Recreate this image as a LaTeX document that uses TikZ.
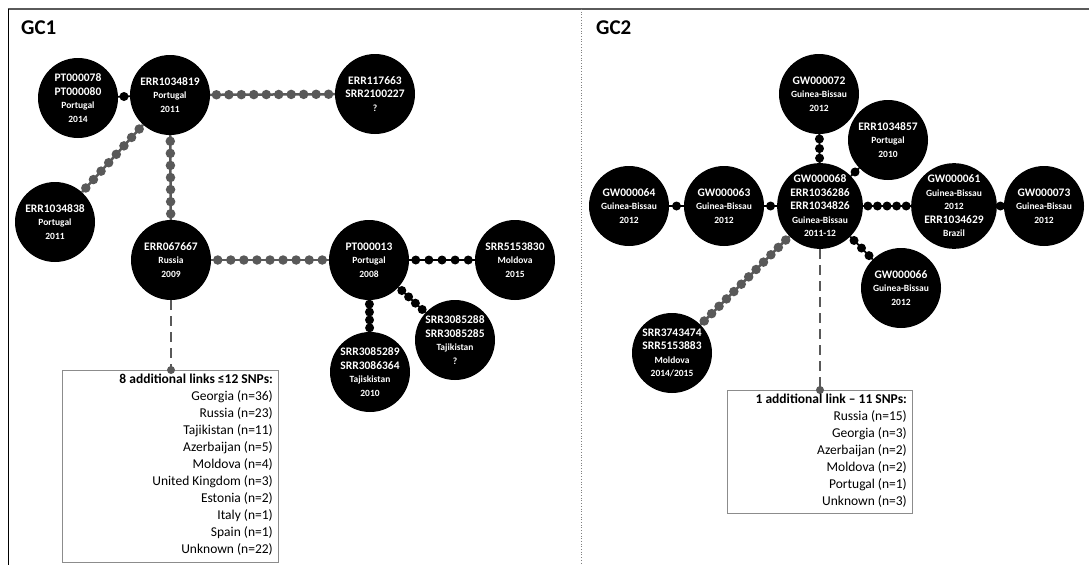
\documentclass[tikz,border=0pt]{standalone}
\usepackage{fontspec}
\setmainfont{Carlito}
\usetikzlibrary{calc}
\definecolor{chaingray}{HTML}{595959}
\definecolor{framegray}{HTML}{5A5A5A}
\definecolor{boxgray}{HTML}{8C8C8C}
\newcommand\ctf{\fontsize{9.5}{12.5}\selectfont}
\newcommand\snpchain[5]{%
  \draw[#5] (#1) -- (#2);
  \foreach \k in {1,...,#3}{%
    \pgfmathsetmacro\pp{(\k-0.5)/#3}%
    \path (#1) -- (#2) node[#4,pos=\pp]{};
  }%
}
\tikzset{
  hap/.style={circle,fill=black,text=white,minimum size=80pt,inner sep=0pt,align=center,
    font=\bfseries\fontsize{11.5}{13.5}\selectfont},
  bdot/.style={circle,fill=black,minimum size=9pt,inner sep=0pt},
  gdot/.style={circle,fill=chaingray,minimum size=9.5pt,inner sep=0pt},
  bline/.style={draw=black,line width=1.8pt},
  gline/.style={draw=chaingray,line width=2.5pt},
  dashline/.style={draw=chaingray,line width=2.5pt,dash pattern=on 10pt off 6pt},
  infobox/.style={draw=boxgray,line width=0.9pt},
  boxtext/.style={align=right,inner sep=0pt,font=\fontsize{13.5}{17}\selectfont},
  paneltitle/.style={anchor=base west,inner sep=0pt,font=\fontsize{21}{24}\selectfont\bfseries},
}
\begin{document}
\begin{tikzpicture}[x=1pt,y=-1pt]
\useasboundingbox (0,0) rectangle (1089,565);
% frame
\draw[framegray,line width=2pt] (7.5,9) -- (1089,9);
\draw[black,line width=1.3pt] (8.5,9) -- (8.5,565);
\draw[gray,line width=0.7pt,dotted] (581,9) -- (581,565);
% titles
\node[paneltitle] (t1) at (21,34) {GC1};
\node[paneltitle] (t2) at (596,34) {GC2};
% ---------- GC1 nodes ----------
\node[hap] (a78) at (78,98) {PT000078\\PT000080\\\ctf Portugal\\\ctf 2014};
\node[hap] (a19) at (170,95) {ERR1034819\\\ctf Portugal\\\ctf 2011};
\node[hap] (a63) at (375,94) {ERR117663\\SRR2100227\\\ctf ?};
\node[hap] (a38) at (55,222) {ERR1034838\\\ctf Portugal\\\ctf 2011};
\node[hap] (a67) at (171,260) {ERR067667\\\ctf Russia\\\ctf 2009};
\node[hap] (a13) at (369,260) {PT000013\\\ctf Portugal\\\ctf 2008};
\node[hap] (a30) at (515,260) {SRR5153830\\\ctf Moldova\\\ctf 2015};
\node[hap] (a88) at (455,340) {SRR3085288\\SRR3085285\\\ctf Tajikistan\\\ctf ?};
\node[hap] (a89) at (370,372) {SRR3085289\\SRR3086364\\\ctf Tajiskistan\\\ctf 2010};
% GC1 connectors
\snpchain{a78}{a19}{1}{bdot}{bline}
\snpchain{a19}{a63}{10}{gdot}{gline}
\snpchain{a19}{a38}{8}{gdot}{gline}
\snpchain{a19}{a67}{7}{gdot}{gline}
\snpchain{a67}{a13}{9}{gdot}{gline}
\snpchain{a13}{a30}{5}{bdot}{bline}
\snpchain{a13}{a88}{4}{bdot}{bline}
\snpchain{a13}{a89}{4}{bdot}{bline}
% GC1 box
\coordinate (b1top) at (171,370);
\draw[infobox] (62,370) rectangle (278,562);
\draw[dashline] (a67) -- (b1top);
\node[gdot,minimum size=8pt] (b1dot) at (b1top) {};
\node[boxtext,anchor=north east] (b1txt) at (273,374) {\textbf{8 additional links ≤12 SNPs:}\\
Georgia (n=36)\\Russia (n=23)\\Tajikistan (n=11)\\Azerbaijan (n=5)\\Moldova (n=4)\\United Kingdom (n=3)\\Estonia (n=2)\\Italy (n=1)\\Spain (n=1)\\Unknown (n=22)};
% ---------- GC2 nodes ----------
\node[hap] (g68) at (820,206) {GW000068\\ERR1036286\\ERR1034826\\\ctf Guinea-Bissau\\\ctf 2011-12};
\node[hap] (g72) at (819,94) {GW000072\\\ctf Guinea-Bissau\\\ctf 2012};
\node[hap] (g57) at (888,140) {ERR1034857\\\ctf Portugal\\\ctf 2010};
\node[hap] (g64) at (629,206) {GW000064\\\ctf Guinea-Bissau\\\ctf 2012};
\node[hap] (g63) at (724,206) {GW000063\\\ctf Guinea-Bissau\\\ctf 2012};
\node[hap] (g61) at (954,206) {GW000061\\\ctf Guinea-Bissau\\\ctf 2012\\ERR1034629\\\ctf Brazil};
\node[hap] (g73) at (1044,206) {GW000073\\\ctf Guinea-Bissau\\\ctf 2012};
\node[hap] (g66) at (901,288) {GW000066\\\ctf Guinea-Bissau\\\ctf 2012};
\node[hap] (g74) at (672,353) {SRR3743474\\SRR5153883\\\ctf Moldova\\\ctf 2014/2015};
% GC2 connectors
\snpchain{g72}{g68}{3}{bdot}{bline}
\snpchain{g57}{g68}{1}{bdot}{bline}
\snpchain{g64}{g63}{1}{bdot}{bline}
\snpchain{g63}{g68}{1}{bdot}{bline}
\snpchain{g68}{g61}{5}{bdot}{bline}
\snpchain{g61}{g73}{1}{bdot}{bline}
\snpchain{g68}{g66}{3}{bdot}{bline}
\snpchain{g68}{g74}{12}{gdot}{gline}
% GC2 box
\coordinate (b2top) at (820,390);
\draw[infobox] (727,390) rectangle (912,513);
\draw[dashline] (g68) -- (b2top);
\node[gdot,minimum size=8pt] (b2dot) at (b2top) {};
\node[boxtext,anchor=north east] (b2txt) at (907,394) {\textbf{1 additional link – 11 SNPs:}\\
Russia (n=15)\\Georgia (n=3)\\Azerbaijan (n=2)\\Moldova (n=2)\\Portugal (n=1)\\Unknown (n=3)};
\end{tikzpicture}
\end{document}
